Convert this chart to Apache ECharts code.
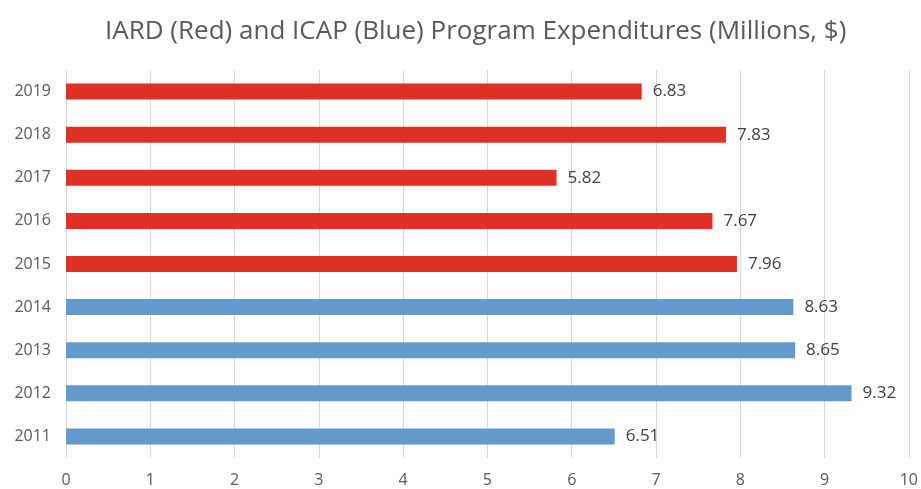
<!DOCTYPE html>
<html><head><meta charset="utf-8">
<script src="https://cdn.jsdelivr.net/npm/echarts@6/dist/echarts.min.js"></script>
<style>html,body{margin:0;padding:0;background:#fff}#c{width:921px;height:489px}</style>
</head><body><div id="c"></div>
<script>
const years = ['2011','2012','2013','2014','2015','2016','2017','2018','2019'];
const values = [6.51, 9.32, 8.65, 8.63, 7.96, 7.67, 5.82, 7.83, 6.83];
const programs = ['ICAP','ICAP','ICAP','ICAP','IARD','IARD','IARD','IARD','IARD'];
const programColors = {IARD: '#DE3024', ICAP: '#6399CB'};
const xTicks = [0,1,2,3,4,5,6,7,8,9,10];

const chart = echarts.init(document.getElementById('c'));
chart.setOption({
  animation: false,
  title: {
    text: 'IARD (Red) and ICAP (Blue) Program Expenditures (Millions, $)',
    left: 100, top: 14,
    textStyle: {fontFamily: 'Open Sans', fontWeight: 'normal', fontSize: 26, color: '#595959'}
  },
  grid: {left: 66, right: 12, top: 70, bottom: 31, containLabel: false},
  xAxis: {
    type: 'value', min: xTicks[0], max: xTicks[xTicks.length-1], interval: 1,
    axisLine: {show: false}, axisTick: {show: false},
    splitLine: {lineStyle: {color: '#D9D9D9', width: 1}},
    axisLabel: {color: '#595959', fontSize: 16, fontFamily: 'Open Sans', margin: 14}
  },
  yAxis: {
    type: 'category', data: years,
    axisLine: {show: false}, axisTick: {show: false},
    axisLabel: {color: '#595959', fontSize: 16, fontFamily: 'Open Sans', margin: 15}
  },
  series: [{
    type: 'bar', barWidth: 16,
    data: values.map((v, i) => ({value: v, itemStyle: {color: programColors[programs[i]]}})),
    label: {show: true, position: 'right', distance: 11, color: '#404040', fontSize: 17, fontFamily: 'Open Sans',
      formatter: p => p.value.toFixed(2)}
  }]
});
</script></body></html>
